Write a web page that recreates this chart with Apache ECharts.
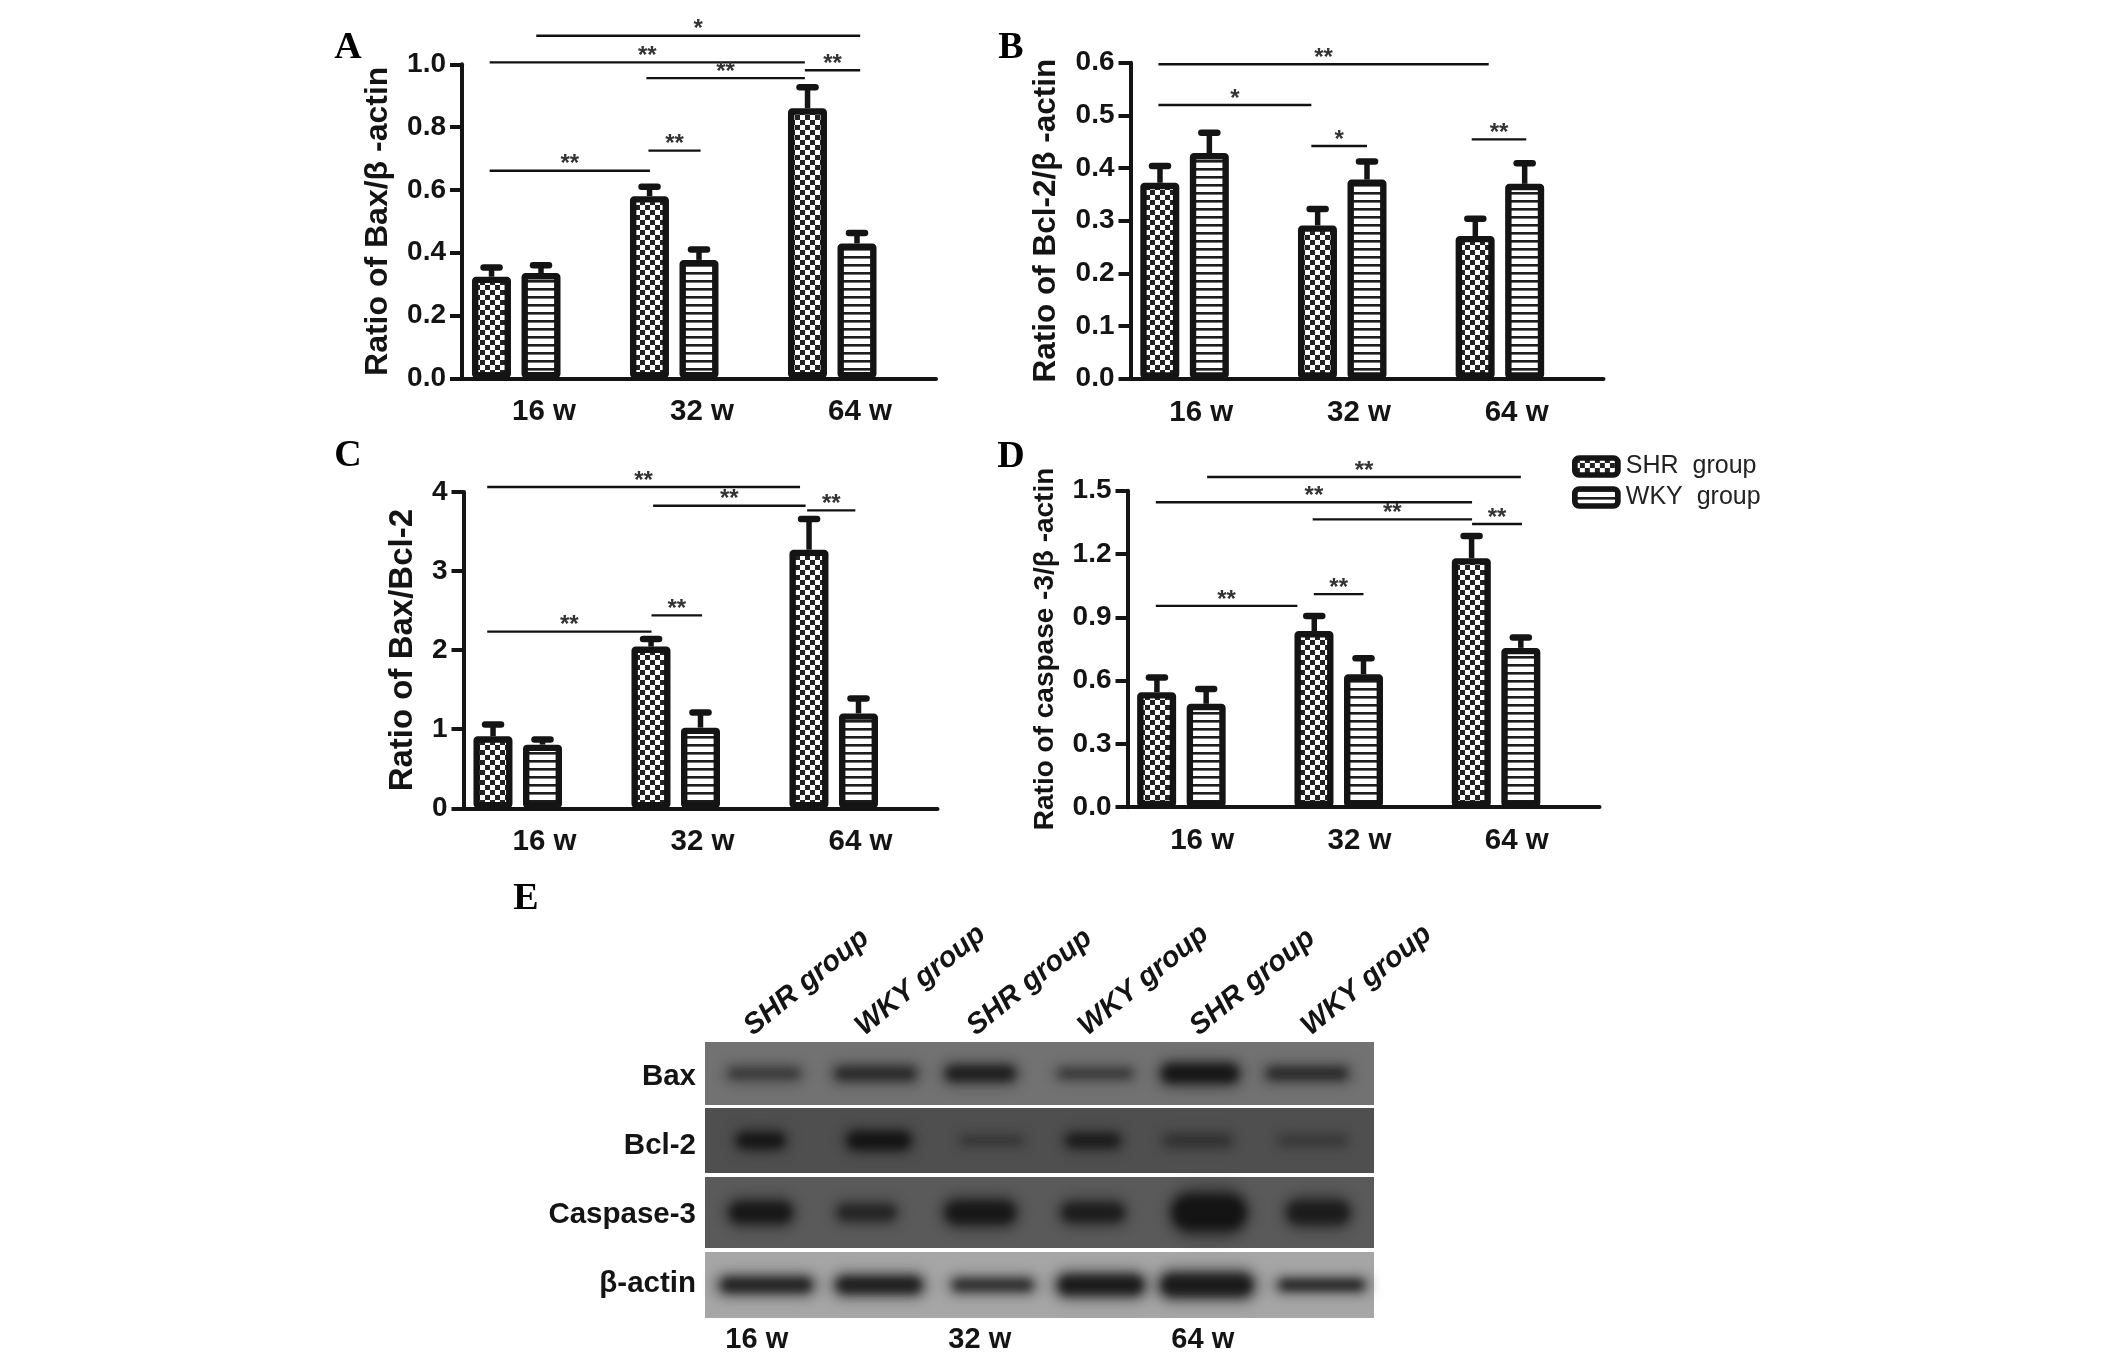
<!DOCTYPE html>
<html>
<head>
<meta charset="utf-8">
<title>Bax Bcl-2 caspase-3</title>
<style>
  html, body { margin: 0; padding: 0; background: #fff; }
  #chart { width: 2126px; height: 1357px; }
</style>
</head>
<body>
<div id="chart"></div>
<script src="https://cdn.jsdelivr.net/npm/echarts@6/dist/echarts.min.js"></script>
<script>
const weeks = ['16 w', '32 w', '64 w'];
const shrName = 'SHR  group';
const wkyName = 'WKY  group';

// bar heights and top of the error bars
const baxShr = [0.3235, 0.58, 0.86];
const baxWky = [0.335, 0.377, 0.4295];
const baxShrTop = [0.353, 0.61, 0.927];
const baxWkyTop = [0.36, 0.41, 0.463];

const bclShr = [0.372, 0.291, 0.271];
const bclWky = [0.4285, 0.378, 0.37];
const bclShrTop = [0.404, 0.322, 0.3035];
const bclWkyTop = [0.467, 0.4125, 0.409];

const ratioShr = [0.91, 2.045, 3.27];
const ratioWky = [0.805, 1.02, 1.2];
const ratioShrTop = [1.06, 2.14, 3.66];
const ratioWkyTop = [0.87, 1.21, 1.39];

const caspShr = [0.545, 0.835, 1.18];
const caspWky = [0.49, 0.63, 0.755];
const caspShrTop = [0.615, 0.906, 1.285];
const caspWkyTop = [0.56, 0.706, 0.804];

// significance lines: from, to (in category units), height on the y axis, number of stars
const baxLines = [
  [-0.03, 2.02, 1.091, 1],
  [-0.325, 1.67, 1.006, 2],
  [0.667, 1.67, 0.956, 2],
  [1.67, 2.02, 0.981, 2],
  [0.68, 1.01, 0.725, 2],
  [-0.325, 0.69, 0.661, 2]
];
const bclLines = [
  [-0.323, 1.772, 0.597, 2],
  [-0.323, 0.647, 0.5196, 1],
  [0.647, 1.0, 0.4417, 1],
  [1.664, 2.01, 0.4544, 2]
];
const ratioLines = [
  [-0.35, 1.63, 4.063, 2],
  [0.7, 1.665, 3.827, 2],
  [1.675, 1.98, 3.768, 2],
  [0.69, 1.01, 2.44, 2],
  [-0.35, 0.69, 2.234, 2]
];
const caspLines = [
  [0.006, 2.0, 1.565, 2],
  [-0.32, 1.69, 1.445, 2],
  [0.677, 1.69, 1.364, 2],
  [1.69, 2.007, 1.342, 2],
  [0.684, 1.0, 1.01, 2],
  [-0.32, 0.58, 0.954, 2]
];

// western blot (panel E)
const laneNames = ['SHR group', 'WKY group', 'SHR group', 'WKY group', 'SHR group', 'WKY group'];
const laneWeeks = ['16 w', '', '32 w', '', '64 w', ''];
const proteins = ['Bax', 'Bcl-2', 'Caspase-3', 'β-actin'];
const rowEdges = [[0, 63], [66, 131], [135, 206], [210, 276]];
const rowColors = ['#727272', '#4f4f4f', '#5a5a5a', '#a6a6a6'];
// each band: shift and width (in lanes), thickness (y units), darkness
const baxBands = [[0.03, 0.7, 14, 0.5], [0.03, 0.78, 15, 0.7], [-0.03, 0.67, 17, 0.85], [0, 0.72, 11, 0.55], [-0.06, 0.73, 20, 1], [-0.1, 0.78, 14, 0.7]];
const bclBands = [[0, 0.46, 16, 0.95], [0.06, 0.6, 18, 1], [0.07, 0.6, 10, 0.35], [-0.02, 0.52, 15, 0.8], [-0.08, 0.65, 13, 0.4], [-0.05, 0.65, 11, 0.3]];
const caspBands = [[0, 0.6, 23, 0.9], [-0.05, 0.57, 18, 0.65], [-0.03, 0.67, 25, 0.9], [-0.02, 0.6, 21, 0.8], [0.02, 0.7, 38, 1], [0, 0.6, 26, 0.8]];
const actinBands = [[0.05, 0.88, 17, 0.9], [0.06, 0.82, 19, 0.95], [0.08, 0.78, 14, 0.8], [0.05, 0.82, 22, 1], [0, 0.88, 25, 1], [0.03, 0.82, 12, 0.95]];
const blotBands = [baxBands, bclBands, caspBands, actinBands];

const sansFont = 'Liberation Sans';
const ink = '#141414';
const slotShift = -0.313; // SHR bar sits left of the tick, WKY bar on it
const offCanvas = 4000; // band shapes are drawn off canvas, only their blurred shadow shows

function checkerPattern() {
  const c = document.createElement('canvas');
  c.width = 10; c.height = 10;
  const g = c.getContext('2d');
  g.fillStyle = '#fff';
  g.fillRect(0, 0, 10, 10);
  g.fillStyle = '#222';
  g.fillRect(0, 0, 5, 5);
  g.fillRect(5, 5, 5, 5);
  return { image: c, repeat: 'repeat' };
}

function stripePattern() {
  const c = document.createElement('canvas');
  c.width = 8; c.height = 8;
  const g = c.getContext('2d');
  g.fillStyle = '#fff';
  g.fillRect(0, 0, 8, 8);
  g.fillStyle = '#1c1c1c';
  g.fillRect(0, 0, 8, 2.6);
  return { image: c, repeat: 'repeat' };
}

const shrFill = checkerPattern();
const wkyFill = stripePattern();

function renderError(params, api) {
  const x = api.value(0);
  const base = api.coord([x, api.value(1)]);
  const top = api.coord([x, api.value(2)]);
  return {
    type: 'group',
    children: [
      { type: 'line', shape: { x1: base[0], y1: base[1], x2: top[0], y2: top[1] }, style: { stroke: ink, lineWidth: 5.5 } },
      { type: 'line', shape: { x1: top[0] - 8, y1: top[1], x2: top[0] + 8, y2: top[1] }, style: { stroke: ink, lineWidth: 6.5, lineCap: 'round' } }
    ]
  };
}

function renderLine(params, api) {
  const from = api.coord([api.value(0), api.value(2)]);
  const to = api.coord([api.value(1), api.value(2)]);
  return {
    type: 'group',
    children: [
      { type: 'line', shape: { x1: from[0], y1: from[1], x2: to[0], y2: to[1] }, style: { stroke: '#111', lineWidth: 2.4 } },
      {
        type: 'text',
        x: (from[0] + to[0]) / 2,
        y: from[1] - 6,
        style: {
          text: '*'.repeat(api.value(3)),
          font: 'bold 24px "' + sansFont + '"',
          fill: '#333',
          textAlign: 'center',
          textVerticalAlign: 'middle'
        }
      }
    ]
  };
}

const grids = [], xAxes = [], yAxes = [], seriesList = [];

function addPanel(p) {
  const g = grids.length;
  grids.push({ left: p.left, top: p.top, width: p.width, height: p.height, containLabel: false });
  const catAxis = xAxes.length;
  xAxes.push({
    type: 'category',
    gridIndex: g,
    data: weeks,
    axisLine: { onZero: false, lineStyle: { color: ink, width: 4 } },
    axisTick: { alignWithLabel: true, length: 12, lineStyle: { color: ink, width: 4 } },
    axisLabel: {
      color: ink, fontFamily: sansFont, fontWeight: 'bold', fontSize: 29.5, margin: 19,
      padding: p.labelPad
    }
  });
  const valAxis = xAxes.length;
  xAxes.push({ type: 'value', gridIndex: g, min: -0.5, max: 2.5, show: false });
  const yIndex = yAxes.length;
  yAxes.push({
    type: 'value',
    gridIndex: g,
    min: 0,
    max: p.max,
    interval: p.step,
    name: p.name,
    nameLocation: 'middle',
    nameGap: p.nameGap,
    nameMoveOverlap: false,
    nameTextStyle: { color: ink, fontFamily: sansFont, fontWeight: 'bold', fontSize: p.nameSize },
    splitLine: { show: false },
    axisLine: { show: true, onZero: false, lineStyle: { color: ink, width: 4 } },
    axisTick: { show: true, length: 12, lineStyle: { color: ink, width: 4 } },
    axisLabel: {
      color: ink, fontFamily: sansFont, fontWeight: 'bold', fontSize: 28, margin: 16,
      formatter: v => v.toFixed(p.digits)
    }
  });
  const barBase = {
    type: 'bar',
    xAxisIndex: catAxis,
    yAxisIndex: yIndex,
    barWidth: 39,
    barGap: '27%',
    silent: true
  };
  seriesList.push(
    Object.assign({}, barBase, { name: shrName, data: p.shr, itemStyle: { color: shrFill, borderColor: ink, borderWidth: 6.4, borderRadius: 1 } }),
    Object.assign({}, barBase, { name: wkyName, data: p.wky, itemStyle: { color: wkyFill, borderColor: ink, borderWidth: 6.4, borderRadius: 1 } }),
    Object.assign({}, barBase, { name: 'spacer', data: [null, null, null] }),
    {
      type: 'custom',
      xAxisIndex: valAxis,
      yAxisIndex: yIndex,
      renderItem: renderError,
      silent: true,
      data: weeks.map((w, i) => [i + slotShift, p.shr[i], p.shrTop[i]]).concat(weeks.map((w, i) => [i, p.wky[i], p.wkyTop[i]]))
    },
    {
      type: 'custom',
      xAxisIndex: valAxis,
      yAxisIndex: yIndex,
      renderItem: renderLine,
      silent: true,
      data: p.lines
    }
  );
}

addPanel({ left: 462, top: 64.3, width: 474, height: 314, max: 1, step: 0.2, digits: 1, name: 'Ratio of Bax/β -actin', nameGap: 68, nameSize: 32, labelPad: [0, 0, 0, 6], shr: baxShr, wky: baxWky, shrTop: baxShrTop, wkyTop: baxWkyTop, lines: baxLines });
addPanel({ left: 1130.5, top: 62.7, width: 473, height: 316, max: 0.6, step: 0.1, digits: 1, name: 'Ratio of Bcl-2/β -actin', nameGap: 68, nameSize: 31.5, labelPad: [0, 16, 0, 0], shr: bclShr, wky: bclWky, shrTop: bclShrTop, wkyTop: bclWkyTop, lines: bclLines });
addPanel({ left: 463.5, top: 492, width: 474, height: 316.3, max: 4, step: 1, digits: 0, name: 'Ratio of Bax/Bcl-2', nameGap: 44, nameSize: 33, labelPad: [0, 0, 0, 4], shr: ratioShr, wky: ratioWky, shrTop: ratioShrTop, wkyTop: ratioWkyTop, lines: ratioLines });
addPanel({ left: 1127.5, top: 490.7, width: 472, height: 316.5, max: 1.5, step: 0.3, digits: 1, name: 'Ratio of caspase -3/β -actin', nameGap: 68, nameSize: 28, labelPad: [0, 8, 0, 0], shr: caspShr, wky: caspWky, shrTop: caspShrTop, wkyTop: caspWkyTop, lines: caspLines });

// blot grid
const blotGrid = grids.length;
grids.push({ left: 705, top: 1042, width: 669, height: 276 });
const blotX = xAxes.length;
xAxes.push({
  type: 'category',
  gridIndex: blotGrid,
  data: laneWeeks,
  axisLine: { show: false },
  axisTick: { show: false },
  axisLabel: { interval: 0, color: ink, fontFamily: sansFont, fontWeight: 'bold', fontSize: 29, margin: 7, padding: [0, 8, 0, 0] }
});
const blotY = yAxes.length;
yAxes.push({ type: 'value', gridIndex: blotGrid, min: 0, max: 276, inverse: true, show: false });
yAxes.push({
  type: 'category',
  gridIndex: blotGrid,
  position: 'left',
  inverse: true,
  data: proteins,
  axisLine: { show: false },
  axisTick: { show: false },
  axisLabel: { color: ink, fontFamily: sansFont, fontWeight: 'bold', fontSize: 29.5, margin: 9 }
});

seriesList.push({
  type: 'custom',
  xAxisIndex: blotX,
  yAxisIndex: blotY,
  silent: true,
  data: rowEdges,
  renderItem: function (params, api) {
    const sys = params.coordSys;
    const y0 = api.coord([0, api.value(0)])[1];
    const y1 = api.coord([0, api.value(1)])[1];
    return { type: 'rect', shape: { x: sys.x, y: y0, width: sys.width, height: y1 - y0 }, style: { fill: rowColors[params.dataIndex] } };
  }
});

const bandData = [];
blotBands.forEach((bands, row) => {
  bands.forEach((b, lane) => {
    bandData.push([lane, (rowEdges[row][0] + rowEdges[row][1]) / 2, b[0], b[1], b[2], b[3]]);
  });
});

function softRect(cx, cy, w, h, alpha, blur) {
  return {
    type: 'rect',
    shape: { x: cx - w / 2 - offCanvas, y: cy - h / 2, width: w, height: h, r: h / 2 },
    style: { fill: '#000', shadowBlur: blur, shadowOffsetX: offCanvas, shadowColor: 'rgba(14,14,14,' + alpha + ')' }
  };
}

seriesList.push({
  type: 'custom',
  xAxisIndex: blotX,
  yAxisIndex: blotY,
  silent: true,
  data: bandData,
  renderItem: function (params, api) {
    const c = api.coord([api.value(0), api.value(1)]);
    const laneW = api.size([1, 0])[0];
    const cx = c[0] + api.value(2) * laneW;
    const w = api.value(3) * laneW;
    const h = api.value(4);
    const a = api.value(5);
    return {
      type: 'group',
      children: [
        softRect(cx, c[1], w * 1.05, h * 1.3, a * 0.55, 14),
        softRect(cx, c[1], w * 0.92, h * 0.85, a * 0.8, 8)
      ]
    };
  }
});

// rotated lane names live on their own axis, nudged left of the lanes
const nameGrid = grids.length;
grids.push({ left: 692, top: 1038, width: 669, height: 1 });
xAxes.push({
  type: 'category',
  gridIndex: nameGrid,
  position: 'top',
  data: laneNames,
  axisLine: { show: false },
  axisTick: { show: false },
  axisLabel: { interval: 0, rotate: 39, color: ink, fontFamily: sansFont, fontWeight: 'bold', fontStyle: 'italic', fontSize: 29, margin: 8 }
});
yAxes.push({ type: 'value', gridIndex: nameGrid, show: false });

const panelLetters = [
  ['A', 348, 48], ['B', 1011, 48], ['C', 348, 456], ['D', 1011, 457], ['E', 526, 899]
];

const chart = echarts.init(document.getElementById('chart'));
chart.setOption({
  backgroundColor: '#fff',
  animation: false,
  grid: grids,
  xAxis: xAxes,
  yAxis: yAxes,
  series: seriesList,
  legend: {
    data: [shrName, wkyName],
    orient: 'vertical',
    left: 1572,
    top: 454,
    padding: 0,
    icon: 'roundRect',
    itemWidth: 43,
    itemHeight: 17,
    itemGap: 6,
    selectedMode: false,
    itemStyle: { borderColor: ink, borderWidth: 5.7 },
    textStyle: { color: '#222', fontFamily: sansFont, fontSize: 25, lineHeight: 17, padding: [0, 0, 0, 3] }
  },
  graphic: panelLetters.map(l => ({
    type: 'text',
    x: l[1],
    y: l[2],
    style: { text: l[0], font: 'bold 38px "Liberation Serif"', fill: '#000', textAlign: 'center', textVerticalAlign: 'middle' }
  }))
});
</script>
</body>
</html>
